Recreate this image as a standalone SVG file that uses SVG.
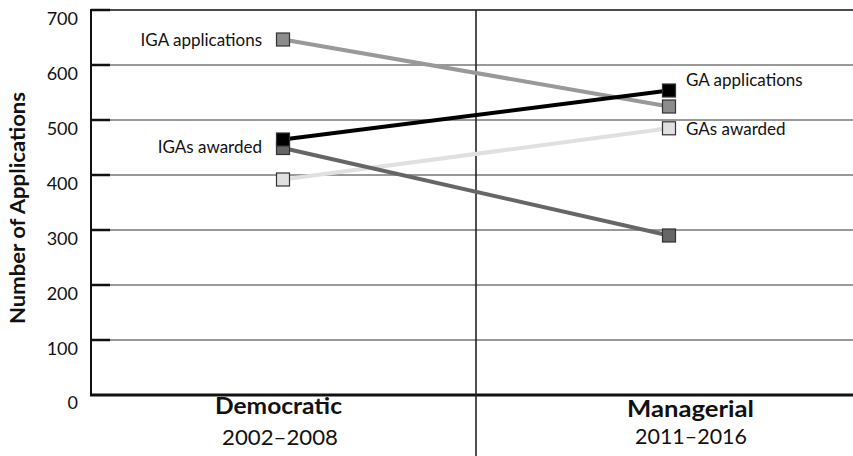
<svg xmlns="http://www.w3.org/2000/svg" width="853" height="456" viewBox="0 0 853 456">
<style>
.grid{stroke:#333;stroke-width:1}
.tick{stroke:#111;stroke-width:2.5}
.num{font-family:Lato,"Liberation Sans",sans-serif;font-size:18px;fill:#111;text-anchor:end}
.lbl{font-family:Lato,"Liberation Sans",sans-serif;font-size:17px;fill:#111}
.cat{font-family:Lato,"Liberation Sans",sans-serif;font-size:22px;fill:#111;text-anchor:middle}
.sq{stroke:#333;stroke-width:1.2}
.ln{fill:none;stroke-width:4}
</style>
<rect width="853" height="456" fill="#fff"/>
<g id="axes">
<line class="grid" x1="91" y1="65" x2="853" y2="65"/>
<line class="grid" x1="91" y1="120" x2="853" y2="120"/>
<line class="grid" x1="91" y1="175" x2="853" y2="175"/>
<line class="grid" x1="91" y1="230" x2="853" y2="230"/>
<line class="grid" x1="91" y1="285" x2="853" y2="285"/>
<line class="grid" x1="91" y1="340" x2="853" y2="340"/>
<line x1="91" y1="10" x2="853" y2="10" stroke="#111" stroke-width="1.6"/>
<line x1="90" y1="395" x2="853" y2="395" stroke="#111" stroke-width="3"/>
<line x1="91" y1="9" x2="91" y2="396" stroke="#111" stroke-width="2"/>
<line x1="476" y1="10" x2="476" y2="456" stroke="#222" stroke-width="1.6"/>
<line class="tick" x1="91" y1="10" x2="110" y2="10"/>
<line class="tick" x1="91" y1="65" x2="110" y2="65"/>
<line class="tick" x1="91" y1="120" x2="110" y2="120"/>
<line class="tick" x1="91" y1="175" x2="110" y2="175"/>
<line class="tick" x1="91" y1="230" x2="110" y2="230"/>
<line class="tick" x1="91" y1="285" x2="110" y2="285"/>
<line class="tick" x1="91" y1="340" x2="110" y2="340"/>
<text class="num" x="78" y="25">700</text>
<text class="num" x="78" y="80">600</text>
<text class="num" x="78" y="135">500</text>
<text class="num" x="78" y="190">400</text>
<text class="num" x="78" y="245">300</text>
<text class="num" x="78" y="300">200</text>
<text class="num" x="78" y="355">100</text>
<text class="num" x="78" y="409">0</text>
<text font-family="Lato,'Liberation Sans',sans-serif" font-size="20" font-weight="bold" fill="#111" text-anchor="middle" transform="translate(25,208) rotate(-90)" textLength="232" lengthAdjust="spacingAndGlyphs">Number of Applications</text>
<text class="cat" x="278.5" y="414" font-weight="bold" textLength="127" lengthAdjust="spacingAndGlyphs">Democratic</text>
<text class="cat" x="280" y="445" textLength="116" lengthAdjust="spacingAndGlyphs">2002–2008</text>
<text class="cat" x="690.5" y="417" font-weight="bold" textLength="127" lengthAdjust="spacingAndGlyphs">Managerial</text>
<text class="cat" x="691" y="444" textLength="112" lengthAdjust="spacingAndGlyphs">2011–2016</text>
</g>
<g id="connectors">
<line class="ln" x1="283" y1="179.5" x2="669" y2="128.3" stroke="#e0e0e0"/>
<line class="ln" x1="283" y1="39.5" x2="669" y2="106.5" stroke="#999"/>
<line class="ln" x1="283" y1="148" x2="669" y2="235.5" stroke="#666"/>
<line class="ln" x1="283" y1="139.5" x2="669" y2="90.5" stroke="#000"/>
</g>
<g id="iga-applications">
<rect class="sq" x="276.5" y="33" width="13" height="13" fill="#8c8c8c"/>
<text class="lbl" x="262" y="46" text-anchor="end">IGA applications</text>
</g>
<g id="igas-awarded">
<rect class="sq" x="276.5" y="141.5" width="13" height="13" fill="#666"/>
<text class="lbl" x="262" y="153" text-anchor="end">IGAs awarded</text>
</g>
<g id="iga-light">
<rect class="sq" x="276.5" y="173" width="13" height="13" fill="#e0e0e0"/>
</g>
<g id="iga-black">
<rect class="sq" x="276.5" y="133" width="13" height="13" fill="#000"/>
</g>
<g id="ga-applications">
<rect class="sq" x="662.5" y="84" width="13" height="13" fill="#000"/>
<text class="lbl" x="686" y="86">GA applications</text>
</g>
<g id="ga-gray">
<rect class="sq" x="662.5" y="100" width="13" height="13" fill="#8c8c8c"/>
</g>
<g id="gas-awarded">
<rect class="sq" x="662.5" y="121.8" width="13" height="13" fill="#e0e0e0"/>
<text class="lbl" x="686" y="135">GAs awarded</text>
</g>
<g id="ga-dark">
<rect class="sq" x="662.5" y="229" width="13" height="13" fill="#666"/>
</g>
</svg>
